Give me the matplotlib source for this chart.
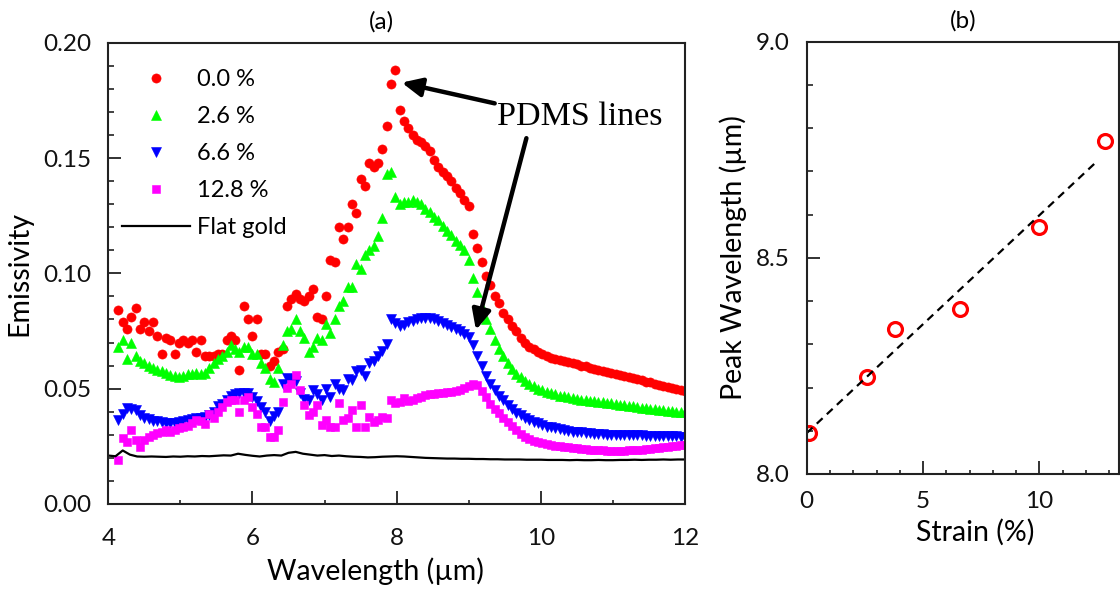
import numpy as np
import matplotlib
matplotlib.use("Agg")
import matplotlib.pyplot as plt
from matplotlib.ticker import MultipleLocator, FormatStrFormatter

plt.rcParams['font.family'] = ['Lato', 'DejaVu Sans']

# ---------------- data (panel a) ----------------
wavelength = [4.14, 4.20, 4.26, 4.32, 4.38, 4.44, 4.50, 4.56, 4.62, 4.68,
              4.74, 4.80, 4.86, 4.92, 4.98, 5.04, 5.10, 5.16, 5.22, 5.28,
              5.34, 5.40, 5.46, 5.52, 5.58, 5.64, 5.70, 5.76, 5.82, 5.88,
              5.94, 6.00, 6.06, 6.12, 6.18, 6.24, 6.30, 6.36, 6.42, 6.48,
              6.54, 6.60, 6.66, 6.72, 6.78, 6.84, 6.90, 6.96, 7.02, 7.08,
              7.14, 7.20, 7.26, 7.32, 7.38, 7.44, 7.50, 7.56, 7.62, 7.68,
              7.74, 7.80, 7.86, 7.92, 7.98, 8.04, 8.10, 8.16, 8.22, 8.28,
              8.34, 8.40, 8.46, 8.52, 8.58, 8.64, 8.70, 8.76, 8.82, 8.88,
              8.94, 9.00, 9.06, 9.12, 9.18, 9.24, 9.30, 9.36, 9.42, 9.48,
              9.54, 9.60, 9.66, 9.72, 9.78, 9.84, 9.90, 9.96, 10.02, 10.08,
              10.14, 10.20, 10.26, 10.32, 10.38, 10.44, 10.50, 10.56, 10.62, 10.68,
              10.74, 10.80, 10.86, 10.92, 10.98, 11.04, 11.10, 11.16, 11.22, 11.28,
              11.34, 11.40, 11.46, 11.52, 11.58, 11.64, 11.70, 11.76, 11.82, 11.88,
              11.94, 12.00]

emis_strain_0_0 = [0.084, 0.079, 0.076, 0.081, 0.085, 0.076, 0.079, 0.075, 0.079, 0.073,
                   0.065, 0.072, 0.071, 0.065, 0.070, 0.071, 0.070, 0.071, 0.066, 0.071,
                   0.064, 0.064, 0.064, 0.065, 0.065, 0.071, 0.073, 0.071, 0.058, 0.086,
                   0.080, 0.073, 0.080, 0.065, 0.065, 0.060, 0.062, 0.066, 0.067, 0.086,
                   0.089, 0.091, 0.089, 0.088, 0.090, 0.093, 0.081, 0.080, 0.090, 0.106,
                   0.105, 0.120, 0.115, 0.120, 0.130, 0.126, 0.141, 0.138, 0.148, 0.146,
                   0.148, 0.154, 0.164, 0.182, 0.188, 0.171, 0.166, 0.163, 0.160, 0.158,
                   0.157, 0.155, 0.153, 0.149, 0.146, 0.144, 0.142, 0.140, 0.137, 0.135,
                   0.132, 0.129, 0.117, 0.111, 0.105, 0.099, 0.095, 0.090, 0.087, 0.083,
                   0.080, 0.077, 0.075, 0.072, 0.070, 0.068, 0.067, 0.066, 0.065, 0.064,
                   0.0635, 0.063, 0.0625, 0.062, 0.0615, 0.061, 0.0605, 0.060, 0.0597, 0.059,
                   0.0587, 0.058, 0.0577, 0.0573, 0.057, 0.0565, 0.056, 0.0556, 0.055, 0.0545,
                   0.054, 0.0537, 0.053, 0.0527, 0.052, 0.0517, 0.0512, 0.0507, 0.0502, 0.050,
                   0.0495, 0.049]

emis_strain_2_6 = [0.068, 0.071, 0.063, 0.070, 0.064, 0.062, 0.061, 0.060, 0.059, 0.058,
                   0.0575, 0.057, 0.056, 0.0555, 0.055, 0.0555, 0.0565, 0.0565, 0.057, 0.0565,
                   0.057, 0.059, 0.061, 0.063, 0.064, 0.066, 0.069, 0.067, 0.066, 0.068,
                   0.068, 0.065, 0.065, 0.061, 0.059, 0.054, 0.053, 0.059, 0.069, 0.075,
                   0.076, 0.080, 0.075, 0.072, 0.066, 0.068, 0.072, 0.071, 0.078, 0.074,
                   0.080, 0.086, 0.088, 0.094, 0.094, 0.104, 0.102, 0.108, 0.110, 0.112,
                   0.116, 0.124, 0.143, 0.144, 0.133, 0.130, 0.131, 0.131, 0.132, 0.131,
                   0.130, 0.128, 0.1265, 0.1245, 0.123, 0.1205, 0.1185, 0.1165, 0.114, 0.1125,
                   0.110, 0.106, 0.098, 0.092, 0.0855, 0.080, 0.076, 0.071, 0.067, 0.064,
                   0.061, 0.0585, 0.0565, 0.055, 0.0535, 0.052, 0.051, 0.050, 0.0495, 0.0485,
                   0.048, 0.0477, 0.047, 0.0467, 0.0465, 0.046, 0.0457, 0.0453, 0.045, 0.0448,
                   0.0446, 0.0444, 0.0442, 0.044, 0.0437, 0.0434, 0.0431, 0.0428, 0.0425, 0.0423,
                   0.042, 0.0418, 0.0415, 0.0413, 0.041, 0.0408, 0.0406, 0.0404, 0.0402, 0.040,
                   0.0399, 0.0398]

emis_strain_6_6 = [0.0365, 0.039, 0.0415, 0.041, 0.0408, 0.0388, 0.0375, 0.0368, 0.0362, 0.0358,
                   0.0354, 0.0352, 0.035, 0.0352, 0.0356, 0.036, 0.0365, 0.037, 0.0372, 0.0372,
                   0.0378, 0.0388, 0.040, 0.0425, 0.0435, 0.045, 0.047, 0.0475, 0.048, 0.0482,
                   0.048, 0.0465, 0.0445, 0.042, 0.040, 0.036, 0.038, 0.040, 0.052, 0.0545,
                   0.054, 0.0535, 0.048, 0.0455, 0.045, 0.0494, 0.0475, 0.045, 0.050, 0.0465,
                   0.052, 0.050, 0.0494, 0.054, 0.0538, 0.0575, 0.058, 0.0555, 0.061, 0.062,
                   0.064, 0.0665, 0.0695, 0.080, 0.0785, 0.077, 0.0775, 0.079, 0.0795, 0.080,
                   0.0805, 0.0806, 0.0805, 0.080, 0.0795, 0.0785, 0.0775, 0.0767, 0.0758, 0.0748,
                   0.0738, 0.0722, 0.069, 0.064, 0.060, 0.0555, 0.052, 0.0494, 0.047, 0.045,
                   0.043, 0.041, 0.0395, 0.0385, 0.0375, 0.0365, 0.0357, 0.035, 0.0342, 0.0336,
                   0.0332, 0.0328, 0.0324, 0.032, 0.0317, 0.0314, 0.0312, 0.031, 0.0308, 0.0306,
                   0.0305, 0.0304, 0.0302, 0.0301, 0.030, 0.030, 0.0299, 0.0299, 0.0298, 0.0298,
                   0.0297, 0.0297, 0.0296, 0.0296, 0.0295, 0.0295, 0.0294, 0.0294, 0.0293, 0.0293,
                   0.0292, 0.0292]

emis_strain_12_8 = [0.019, 0.0285, 0.027, 0.032, 0.0278, 0.0248, 0.0277, 0.029, 0.030, 0.0306,
                    0.031, 0.032, 0.0313, 0.032, 0.0328, 0.0336, 0.034, 0.035, 0.0364, 0.0358,
                    0.0345, 0.039, 0.0372, 0.040, 0.0422, 0.0444, 0.045, 0.045, 0.040, 0.0451,
                    0.0465, 0.0422, 0.039, 0.0335, 0.0335, 0.0292, 0.029, 0.032, 0.0444, 0.0505,
                    0.052, 0.0559, 0.0494, 0.043, 0.0386, 0.040, 0.0429, 0.0343, 0.0364, 0.0335,
                    0.0335, 0.0437, 0.0364, 0.0372, 0.0408, 0.0335, 0.0429, 0.0335, 0.0378, 0.0357,
                    0.0364, 0.0378, 0.0372, 0.0451, 0.0437, 0.0444, 0.0458, 0.0446, 0.045, 0.0458,
                    0.0465, 0.0472, 0.0475, 0.0477, 0.048, 0.0482, 0.0484, 0.0486, 0.0489, 0.0495,
                    0.0502, 0.0512, 0.0522, 0.0515, 0.0488, 0.0462, 0.0435, 0.041, 0.0394, 0.0375,
                    0.0357, 0.034, 0.0322, 0.0305, 0.0292, 0.0282, 0.0275, 0.0268, 0.0264, 0.026,
                    0.0256, 0.0253, 0.025, 0.0247, 0.0245, 0.0243, 0.0241, 0.0239, 0.0237, 0.0235,
                    0.0234, 0.0233, 0.0232, 0.0231, 0.023, 0.023, 0.023, 0.0231, 0.0232, 0.0233,
                    0.0234, 0.0236, 0.0238, 0.024, 0.0242, 0.0244, 0.0246, 0.0248, 0.025, 0.0252,
                    0.0254, 0.0256]

gold_wavelength = [4.0, 4.1, 4.2, 4.3, 4.4, 4.5, 4.6, 4.7, 4.8, 4.9,
                   5.0, 5.1, 5.2, 5.3, 5.4, 5.5, 5.6, 5.7, 5.8, 5.9,
                   6.0, 6.1, 6.2, 6.3, 6.4, 6.5, 6.6, 6.7, 6.8, 6.9,
                   7.0, 7.1, 7.2, 7.3, 7.4, 7.5, 7.6, 7.7, 7.8, 7.9,
                   8.0, 8.1, 8.2, 8.3, 8.4, 8.5, 8.6, 8.7, 8.8, 8.9,
                   9.0, 9.1, 9.2, 9.3, 9.4, 9.5, 9.6, 9.7, 9.8, 9.9,
                   10.0, 10.1, 10.2, 10.3, 10.4, 10.5, 10.6, 10.7, 10.8, 10.9,
                   11.0, 11.1, 11.2, 11.3, 11.4, 11.5, 11.6, 11.7, 11.8, 11.9,
                   12.0]

gold_emissivity = [0.0210, 0.0207, 0.0232, 0.0214, 0.0206, 0.0205, 0.0206, 0.0205, 0.0204, 0.0206,
                   0.0205, 0.0207, 0.0206, 0.0208, 0.0207, 0.0209, 0.0211, 0.0210, 0.0218, 0.0213,
                   0.0209, 0.0206, 0.0210, 0.0212, 0.0210, 0.0222, 0.0226, 0.0218, 0.0214, 0.0210,
                   0.0212, 0.0208, 0.0210, 0.0207, 0.0205, 0.0204, 0.0202, 0.0203, 0.0205, 0.0206,
                   0.0207, 0.0206, 0.0204, 0.0202, 0.0200, 0.0199, 0.0198, 0.0197, 0.0197, 0.0196,
                   0.0196, 0.0195, 0.0195, 0.0194, 0.0194, 0.0193, 0.0193, 0.0193, 0.0192, 0.0192,
                   0.0192, 0.0191, 0.0191, 0.0191, 0.0190, 0.0191, 0.0190, 0.0190, 0.0191, 0.0190,
                   0.0190, 0.0191, 0.0191, 0.0192, 0.0191, 0.0192, 0.0192, 0.0193, 0.0192, 0.0193,
                   0.0193]

series_labels = ['0.0 %', '2.6 %', '6.6 %', '12.8 %']
gold_label = 'Flat gold'

# ---------------- data (panel b) ----------------
strain = [0.1, 2.6, 3.8, 6.6, 10.0, 12.8]
peak_wavelength = [8.094, 8.225, 8.335, 8.381, 8.572, 8.770]

# ---------------- figure ----------------
W, H = 1120, 590
fig = plt.figure(figsize=(W / 100, H / 100), dpi=100)
fig.patch.set_facecolor('white')

def px_axes(x0, x1, ytop, ybot):
    return [x0 / W, 1 - ybot / H, (x1 - x0) / W, (ybot - ytop) / H]

ax1 = fig.add_axes(px_axes(108.3, 685.0, 42.7, 504.0))
ax2 = fig.add_axes(px_axes(806.7, 1119.0, 41.7, 474.0))

spine_col = '#222222'
tick_fs = 17.5
label_fs = 20.5

styles = [
    dict(marker='o', color='#ff0000', ms=6.6),
    dict(marker='^', color='#00ff00', ms=7.4),
    dict(marker='v', color='#0000ff', ms=7.4),
    dict(marker='s', color='#ff00ff', ms=5.8),
]
series = [emis_strain_0_0, emis_strain_2_6, emis_strain_6_6, emis_strain_12_8]

handles = []
for ys, st, lab in zip(series, styles, series_labels):
    h, = ax1.plot(wavelength, ys, linestyle='none', marker=st['marker'],
                  color=st['color'], markersize=st['ms'],
                  markeredgecolor=st['color'], markeredgewidth=0.4, label=lab)
    handles.append(h)
hg, = ax1.plot(gold_wavelength, gold_emissivity, color='black', lw=1.6, label=gold_label)
handles.append(hg)

ax1.set_xlim(4, 12)
ax1.set_ylim(0, 0.20)
ax1.xaxis.set_major_locator(MultipleLocator(2))
ax1.xaxis.set_minor_locator(MultipleLocator(1))
ax1.yaxis.set_major_locator(MultipleLocator(0.05))
ax1.yaxis.set_minor_locator(MultipleLocator(0.01))
ax1.yaxis.set_major_formatter(FormatStrFormatter('%.2f'))

leg = ax1.legend(handles=handles, loc='upper left', bbox_to_anchor=(0.0238, 0.943),
                 frameon=False, fontsize=17, borderpad=0, borderaxespad=0,
                 handlelength=2.9, handletextpad=0.28, labelspacing=0.68,
                 markerscale=1.0)

# annotation
ax1.text(9.39, 0.1678, 'PDMS lines', family=['Liberation Serif', 'DejaVu Serif'],
         fontsize=24.5, ha='left', va='center')
arrow_kw = dict(arrowstyle='-|>,head_length=0.6,head_width=0.28', lw=3.2,
                color='black', shrinkA=0, shrinkB=0, mutation_scale=20)
ax1.annotate('', xy=(8.07, 0.1827), xytext=(9.36, 0.1737), arrowprops=arrow_kw)
ax1.annotate('', xy=(9.10, 0.0754), xytext=(9.80, 0.1586), arrowprops=arrow_kw)

ax1.set_xlabel('Wavelength (\u00b5m)', fontsize=label_fs)
ax1.xaxis.set_label_coords(0.4625, -0.115)
ax1.set_ylabel('Emissivity', fontsize=label_fs)
ax1.yaxis.set_label_coords(-0.132, 0.5)
ax1.set_title('(a)', fontsize=tick_fs, x=0.473, pad=10)

# panel b
ax2.plot(strain, peak_wavelength, linestyle='none', marker='o', markersize=10,
         markerfacecolor='none', markeredgecolor='#ff0000', markeredgewidth=2.3)
coef = np.polyfit(strain, peak_wavelength, 1)
fit_x = np.array([0.0, 12.5])
ax2.plot(fit_x, np.polyval(coef, fit_x), color='black', lw=1.6,
         linestyle=(0, (3.6, 2.6)))
ax2.set_xlim(0, 13.42)
ax2.set_ylim(8.0, 9.0)
ax2.xaxis.set_major_locator(MultipleLocator(5))
ax2.xaxis.set_minor_locator(MultipleLocator(1))
ax2.yaxis.set_major_locator(MultipleLocator(0.5))
ax2.yaxis.set_minor_locator(MultipleLocator(0.1))
ax2.yaxis.set_major_formatter(FormatStrFormatter('%.1f'))
ax2.set_xlabel('Strain (%)', fontsize=label_fs)
ax2.xaxis.set_label_coords(0.539, -0.103)
ax2.set_ylabel('Peak Wavelength (\u00b5m)', fontsize=label_fs)
ax2.yaxis.set_label_coords(-0.19, 0.5)
ax2.set_title('(b)', fontsize=tick_fs, pad=10)

for ax, xpad in ((ax1, 17), (ax2, 12.5)):
    for sp in ax.spines.values():
        sp.set_linewidth(1.5)
        sp.set_color(spine_col)
    ax.tick_params(which='both', direction='in', top=False, right=False,
                   colors=spine_col, labelcolor='#111111', labelsize=tick_fs)
    ax.tick_params(which='major', length=9.5, width=1.3)
    ax.tick_params(axis='y', which='minor', length=4, width=1.2)
    ax.tick_params(axis='x', which='minor', length=3, width=1.2)
    ax.tick_params(axis='x', which='major', pad=xpad)
    ax.tick_params(axis='y', which='major', pad=12)

fig.savefig('out.png', dpi=100, facecolor='white')
